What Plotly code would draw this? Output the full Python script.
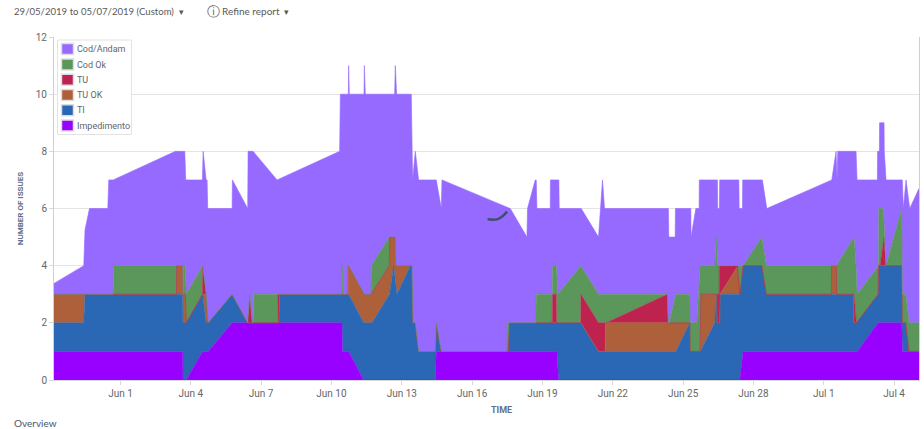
import pandas as pd
import plotly.graph_objects as go

# Every series is the top edge of its band in the stacked area: (days from 1 Jun 2019, number of issues)
impedimento = [(-2.835,1),(2.656,1),(2.664,0),(2.801,0),(3.508,1),(3.739,1),(4.762,2),(9.451,2),(9.464,1),(9.733,1),
 (10.372,0),(13.429,0),(13.472,1),(18.617,1),(18.685,0),(26.418,0),(26.559,1),(31.432,1),(32.315,2),(33.325,2),(33.35,1),(34.061,1)]

ti = [(-2.835,2),(-1.565,2),(-1.513,3),(2.656,3),(2.664,2),(2.801,2),(3.508,3),(3.653,2),(3.739,2),(4.762,3),(5.427,2),(6.749,2),
 (6.791,3),(9.733,3),(10.372,2),(10.73,2),(11.48,3),(11.651,4),(11.796,3),(12.363,4),(12.435,4),(12.478,2),(12.576,2),(12.717,1),
 (13.429,1),(13.472,2),(13.685,1),(16.541,1),(16.596,2),(19.64,2),(20.391,1),(23.689,1),(24.286,2),(24.299,1),(24.726,1),(25.352,2),
 (25.395,3),(25.437,3),(25.45,2),(25.565,2),(25.578,3),(26.418,3),(26.559,4),(27.356,4),(27.552,3),(31.27,3),(31.28,2),(31.389,2),
 (32.315,3),(32.336,4),(33.325,4),(33.35,2),(33.495,2),(33.636,1),(34.061,1)]

tu_ok = [(-2.835,3),(2.387,3),(2.40,4),(2.656,4),(2.664,3),(2.771,3),(2.801,2),(3.508,3),(3.666,3),(3.739,2),(4.762,3),(5.427,2),
 (6.749,2),(6.791,3),(9.72,3),(9.733,4),(10.402,3),(10.688,3),(11.48,4),(11.49,5),(11.723,5),(11.745,4),(12.435,4),(12.478,2),
 (12.576,2),(12.717,1),(13.429,1),(13.472,2),(13.685,1),(16.541,1),(16.596,2),(19.64,2),(20.391,1),(20.676,1),(20.697,2),(24.286,2),
 (24.299,1),(24.726,1),(24.755,3),(25.437,3),(25.45,2),(25.565,2),(25.578,3),(26.346,4),(26.418,3),(26.559,4),(27.356,4),(27.552,3),
 (30.323,3),(30.33,4),(30.536,4),(30.545,3),(31.27,3),(31.28,2),(31.389,2),(32.315,3),(32.336,4),(33.325,4),(33.35,2),(33.495,2),
 (33.636,1),(34.061,1)]

tu = [(-2.835,3),(2.387,3),(2.40,4),(2.656,4),(2.664,3),(2.771,3),(2.801,2),(3.496,3),(3.508,4),(3.666,3),(3.739,2),(4.762,3),(5.427,2),
 (5.515,3),(5.618,2),(6.706,2),(6.72,3),(9.677,3),(9.69,4),(9.733,4),(10.402,3),(10.688,3),(11.47,4),(11.48,5),(11.723,5),(11.745,4),
 (12.435,4),(12.478,2),(12.576,2),(12.717,1),(13.429,1),(13.472,2),(13.685,1),(16.541,1),(16.596,2),(18.417,2),(18.43,3),(18.587,3),
 (18.6,2),(19.63,2),(19.64,3),(20.391,2),(20.718,2),(23.33,3),(23.36,2),(24.286,2),(24.299,1),(24.726,1),(24.755,3),(25.536,3),
 (25.54,4),(26.316,4),(26.418,3),(26.559,4),(27.356,4),(27.552,3),(30.323,3),(30.33,4),(30.536,4),(30.545,3),(31.291,3),(31.389,2),
 (32.315,3),(32.336,4),(32.4,4),(32.57,5),(32.643,4),(33.325,4),(33.35,2),(33.495,2),(33.636,1),(34.061,1)]

cod_ok = [(-2.835,3),(-0.311,3),(-0.298,4),(2.656,4),(2.664,3),(2.686,3),(2.7,4),(2.771,4),(2.801,3),(3.508,4),(3.653,3),(3.739,2),
 (4.762,3),(5.427,2),(5.515,3),(5.618,2),(5.657,2),(5.682,3),(9.451,3),(9.464,4),(9.494,3),(9.677,3),(9.69,4),(9.733,4),(10.402,3),
 (10.688,3),(10.7,4),(11.47,5),(11.723,5),(11.745,4),(12.435,4),(12.478,2),(12.576,2),(12.717,1),(13.429,1),(13.472,2),(13.685,1),
 (16.485,1),(16.498,2),(17.72,2),(17.734,3),(18.417,3),(18.43,4),(18.587,4),(18.66,3),(19.64,4),(20.391,3),(23.33,3),(23.36,2),
 (23.403,2),(23.689,3),(24.286,3),(24.299,2),(24.584,2),(24.726,4),(25.352,4),(25.42,5),(25.48,4),(26.559,4),(27.356,5),(27.552,4),
 (30.536,4),(31.291,5),(31.376,4),(31.419,3),(32.315,4),(32.336,4),(32.345,6),(32.541,6),(32.656,4),(33.325,6),(33.35,3),(33.495,3),
 (33.636,2),(34.061,2)]

cod_andam = [(-2.835,3.38),(-1.565,4),(-1.513,5.25),(-1.322,6),(-0.541,6),(-0.499,7),(-0.311,7),(2.345,8),(2.743,8),(2.784,7),(3.496,7),
 (3.525,8),(3.653,7),(3.696,7),(3.722,6),(4.762,6),(4.775,7),(5.427,6),(5.444,8),(5.657,8),(6.68,7),(9.349,8),(9.379,10),(9.72,10),
 (9.733,11),(9.762,10),(10.389,10),(10.402,11),(10.444,10),(11.694,10),(11.723,11),(11.779,10),(12.405,10),(12.461,7),(12.576,8),
 (12.717,7),(13.472,7),(13.685,6),(13.714,7),(16.626,6),(17.338,5),(17.363,6),(17.692,7),(17.734,7),(17.764,6),(18.331,6),(18.34,7),
 (18.70,7),(18.715,6),(19.653,6),(20.391,5),(20.561,7),(20.647,6),(23.373,6),(23.39,5),(23.659,5),(23.672,6),(24.329,6),(24.34,5),
 (24.542,6),(24.683,6),(24.69,7),(25.463,7),(25.475,6),(25.548,6),(25.56,7),(26.376,7),(26.39,6),(26.529,6),(26.54,7),(27.381,7),
 (27.569,6),(30.34,7),(30.524,8),(30.566,7),(30.596,8),(31.376,8),(31.419,7),(32.285,7),(32.295,8),(32.371,8),(32.38,9),(32.57,9),
 (32.58,8),(32.656,7),(33.35,7),(33.393,6),(33.508,7),(33.665,6),(34.032,6.7),(34.061,6.7)]

pen_mark = [(15.66,5.62),(16.06,5.62),(16.27,5.71),(16.49,5.89)]

series_names = ["Impedimento", "TI", "TU OK", "TU", "Cod Ok", "Cod/Andam"]
series_points = [impedimento, ti, tu_ok, tu, cod_ok, cod_andam]
series_colors = ["#9800FF", "#2A67B4", "#AE603A", "#BE2350", "#5B965B", "#9669FF"]
x_start, x_end = -2.835, 34.061
y_ticks = [0, 2, 4, 6, 8, 10, 12]

FIG_W, FIG_H = 924, 429
M_L, M_R, M_T, M_B = 53.5, 5, 37, 49
PLOT_W, PLOT_H = FIG_W - M_L - M_R, FIG_H - M_T - M_B


def dates(points):
    return [pd.Timestamp("2019-06-01") + pd.Timedelta(days=p[0]) for p in points]


def px(x):  # window pixel -> paper fraction (for page furniture only)
    return (x - M_L) / PLOT_W


def py(y):
    return (FIG_H - M_B - y) / PLOT_H


fig = go.Figure()
for i, (name, pts, color) in enumerate(zip(series_names, series_points, series_colors)):
    fig.add_trace(go.Scatter(
        x=dates(pts), y=[p[1] for p in pts], name=name, mode="lines",
        line=dict(color=color, width=0.6), fillcolor=color,
        fill="tozeroy" if i == 0 else "tonexty",
        hoverinfo="skip", showlegend=False,
    ))

fig.add_trace(go.Scatter(
    x=dates(pen_mark), y=[p[1] for p in pen_mark], mode="lines", showlegend=False,
    line=dict(color="#3F4F6D", width=2.5, shape="spline"), hoverinfo="skip",
))

font = "Roboto, Open Sans, sans-serif"
header_font = "Lato, Roboto, sans-serif"
shapes = [dict(type="rect", xref="paper", yref="paper", x0=px(57), x1=px(131), y0=py(134.5), y1=py(40),
               fillcolor="white", line=dict(color="#E2E2E2", width=1), layer="above")]
annotations = []
legend_rows = [49, 64.5, 79.7, 95, 110.2, 125.5]
for yc, name, color in zip(legend_rows, series_names[::-1], series_colors[::-1]):
    shapes.append(dict(type="rect", xref="paper", yref="paper", x0=px(61), x1=px(73), y0=py(yc + 5.5), y1=py(yc - 5.5),
                       fillcolor=color, line=dict(color="#DEDEDE", width=1.5), layer="above"))
    annotations.append(dict(text=name, xref="paper", yref="paper", xanchor="left", yanchor="middle", x=px(75), y=py(yc),
                            showarrow=False, font=dict(size=9, color="#5C6670")))
for text, xpos, size in [("29/05/2019 to 05/07/2019 (Custom)", 11, 9.6), ("▾", 177, 9), ("ⓘ", 205, 13),
                         ("Refine report", 220, 10), ("▾", 282, 9)]:
    annotations.append(dict(text=text, xref="paper", yref="paper", xanchor="left", yanchor="middle",
                            x=px(xpos), y=py(11), showarrow=False,
                            font=dict(family=header_font, size=size, color="#5A5A5A")))
annotations.append(dict(text="Overview", xref="paper", yref="paper", xanchor="left", yanchor="middle",
                        x=px(11), y=py(423), showarrow=False,
                        font=dict(family=header_font, size=10, color="#3F5870")))
annotations.append(dict(text="<b>TIME</b>", xref="paper", yref="paper", xanchor="center", yanchor="middle",
                        x=px(501), y=py(410), showarrow=False, font=dict(size=9, color="#5F7088")))

fig.update_layout(
    width=FIG_W, height=FIG_H, autosize=False,
    margin=dict(l=M_L, r=M_R, t=M_T, b=M_B),
    paper_bgcolor="white", plot_bgcolor="white",
    font=dict(family=font, size=10, color="#666666"),
    showlegend=False,
    shapes=shapes,
    annotations=annotations,
    xaxis=dict(
        type="date",
        range=[pd.Timestamp("2019-06-01") + pd.Timedelta(days=x_start),
               pd.Timestamp("2019-06-01") + pd.Timedelta(days=x_end)],
        tick0="2019-06-01", dtick=3 * 86400000, tickformat="%b %-d",
        ticks="outside", ticklen=4, tickcolor="#D8D8D8", showgrid=False, zeroline=False,
        showline=True, linecolor="#D8D8D8", tickfont=dict(size=10, color="#666666"),
    ),
    yaxis=dict(
        range=[0, 12], tickvals=y_ticks, ticks="outside", ticklen=4, tickcolor="#D8D8D8",
        showgrid=True, gridcolor="#E4E4E4", gridwidth=1, zeroline=False,
        showline=True, linecolor="#CFCFCF", mirror=True, tickfont=dict(size=10, color="#666666"),
        title=dict(text="<b>NUMBER OF ISSUES</b>", font=dict(size=8, color="#5F7088"), standoff=10),
        layer="below traces",
    ),
)

fig.write_html("out.html", config={"displayModeBar": False},
               post_script="document.body.style.margin='0';document.body.style.overflow='hidden';")
